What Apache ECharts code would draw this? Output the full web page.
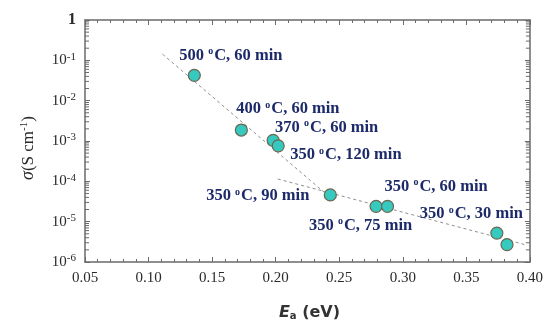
<!DOCTYPE html>
<html lang="en">
<head>
  <meta charset="UTF-8">
  <title>Conductivity vs activation energy</title>
  <script src="https://cdn.jsdelivr.net/npm/echarts@6/dist/echarts.min.js"></script>
  <style>
    html, body { margin: 0; padding: 0; background: #fff; }
    #chart { width: 546px; height: 326px; }
  </style>
</head>
<body>
  <div id="chart"></div>
  <script>
    // data
    var ea = [0.136, 0.173, 0.198, 0.202, 0.243, 0.279, 0.288, 0.374, 0.382];
    var sigma = [4.25e-2, 1.87e-3, 1.04e-3, 7.6e-4, 4.6e-5, 2.4e-5, 2.4e-5, 5.2e-6, 2.7e-6];
    var temps = [500, 400, 370, 350, 350, 350, 350, 350, null];
    var times = [60, 60, 60, 120, 90, 75, 60, 30, null];
    // two dashed guide lines (end points)
    var fitHigh = [[0.111, 0.142], [0.246, 3.3e-5]];
    var fitLow = [[0.2017, 1.14e-4], [0.398, 2.6e-6]];
    var xTicks = [0.05, 0.10, 0.15, 0.20, 0.25, 0.30, 0.35, 0.40];

    var xMin = 0.05, xMax = 0.40;

    // where each label sits relative to its point
    var labelOffsets = [[-15, -20], [-5, -21], [2, -13], [12, 9], [-21, 1], [-67, 19], [-3, -20], [-77, -19], null];
    var labelAlign = ['left', 'left', 'left', 'left', 'right', 'left', 'left', 'left', 'left'];

    var navy = '#1c2a6a';
    var labelRich = {
      t: { fontFamily: 'Liberation Serif', fontWeight: 'bold', fontSize: 16.5, color: navy },
      s: { fontFamily: 'Liberation Serif', fontWeight: 'bold', fontSize: 10, color: navy, padding: [0, 1, 7, 0] }
    };

    var points = ea.map(function (x, i) {
      var item = { value: [x, sigma[i]] };
      if (temps[i] != null) {
        item.label = {
          show: true,
          position: 'inside',
          offset: labelOffsets[i],
          align: labelAlign[i],
          verticalAlign: 'middle',
          formatter: '{t|' + temps[i] + ' }{s|o}{t|C, ' + times[i] + ' min}',
          rich: labelRich
        };
      }
      return item;
    });

    // log minor tick values (2..9 per decade)
    var minorVals = [];
    for (var e = -6; e < 0; e++) {
      for (var m = 2; m <= 9; m++) minorVals.push([xMin, m * Math.pow(10, e)]);
    }

    var frame = '#6a6a6a';
    var tickFont = { fontFamily: 'Liberation Serif', fontSize: 15, color: '#2a2a2a' };

    var myChart = echarts.init(document.getElementById('chart'), null, { renderer: 'canvas' });
    var option = {
      animation: false,
      backgroundColor: '#fff',
      grid: { left: 85, right: 15, top: 20, bottom: 58 },
      xAxis: [{
        type: 'value',
        min: xMin, max: xMax, interval: 0.05,
        axisLine: { lineStyle: { color: frame, width: 1.5 } },
        axisTick: { inside: true, length: 5, lineStyle: { color: frame } },
        minorTick: { show: true, splitNumber: 5, length: 3, lineStyle: { color: frame } },
        splitLine: { show: false },
        axisLabel: {
          margin: 9,
          formatter: function (v) { return v.toFixed(2); },
          fontFamily: tickFont.fontFamily, fontSize: tickFont.fontSize, color: tickFont.color
        },
        name: '{e|E}{a|a}{n| (eV)}',
        nameLocation: 'middle',
        nameGap: 43,
        nameTextStyle: {
          padding: [0, 0, 0, 4],
          rich: {
            e: { fontFamily: 'DejaVu Sans', fontWeight: 'bold', fontStyle: 'italic', fontSize: 16, color: '#333' },
            a: { fontFamily: 'DejaVu Sans', fontWeight: 'bold', fontSize: 10, color: '#333', padding: [6, 0, 0, 0] },
            n: { fontFamily: 'DejaVu Sans', fontWeight: 'bold', fontSize: 16, color: '#333' }
          }
        }
      }, {
        type: 'value', position: 'top',
        min: xMin, max: xMax, interval: 0.05,
        axisLine: { lineStyle: { color: frame, width: 1.5 } },
        axisTick: { inside: true, length: 5, lineStyle: { color: frame } },
        minorTick: { show: true, splitNumber: 5, length: 3, lineStyle: { color: frame } },
        splitLine: { show: false },
        axisLabel: { show: false }
      }],
      yAxis: [{
        type: 'log', logBase: 10,
        min: 1e-6, max: 1, splitNumber: 6,
        axisLine: { lineStyle: { color: frame, width: 1.5 } },
        axisTick: { inside: true, length: 5, lineStyle: { color: frame } },
        splitLine: { show: false },
        axisLabel: {
          margin: 9,
          formatter: function (v) {
            if (v >= 0.999) return '{one|1}';
            return '{b|10}{s|' + Math.round(Math.log10(v)) + '}';
          },
          rich: {
            one: { fontFamily: 'Liberation Serif', fontWeight: 'bold', fontSize: 16, color: '#2a2a2a' },
            b: { fontFamily: 'Liberation Serif', fontSize: 15, color: '#2a2a2a' },
            s: { fontFamily: 'Liberation Serif', fontSize: 11, color: '#2a2a2a', padding: [0, 0, 7, 0] }
          }
        },
        name: '{i|σ}{n|(S cm}{s|-1}{n|)}',
        nameLocation: 'middle',
        nameGap: 47,
        nameTextStyle: {
          padding: [0, 14, 0, 0],
          rich: {
            i: { fontFamily: 'Liberation Serif', fontStyle: 'italic', fontSize: 18, color: '#2a2a2a' },
            n: { fontFamily: 'Liberation Serif', fontSize: 17, color: '#2a2a2a' },
            s: { fontFamily: 'Liberation Serif', fontSize: 11, color: '#2a2a2a', padding: [0, 0, 8, 0] }
          }
        }
      }, {
        type: 'log', logBase: 10, position: 'right',
        min: 1e-6, max: 1, splitNumber: 6,
        axisLine: { lineStyle: { color: frame, width: 1.5 } },
        axisTick: { inside: true, length: 5, lineStyle: { color: frame } },
        splitLine: { show: false },
        axisLabel: { show: false }
      }],
      series: [{
        type: 'custom',
        silent: true,
        clip: false,
        data: minorVals,
        renderItem: function (params, api) {
          var v = api.value(1);
          var l = api.coord([xMin, v]);
          var r = api.coord([xMax, v]);
          var st = { stroke: frame, lineWidth: 1 };
          return {
            type: 'group',
            children: [
              { type: 'line', shape: { x1: l[0], y1: l[1], x2: l[0] + 4, y2: l[1] }, style: st },
              { type: 'line', shape: { x1: r[0], y1: r[1], x2: r[0] - 4, y2: r[1] }, style: st }
            ]
          };
        }
      }, {
        type: 'line', data: fitHigh, symbol: 'none', silent: true,
        lineStyle: { color: '#8f8f8f', width: 1, type: [3, 3] }
      }, {
        type: 'line', data: fitLow, symbol: 'none', silent: true,
        lineStyle: { color: '#8f8f8f', width: 1, type: [3, 3] }
      }, {
        type: 'scatter',
        data: points,
        symbolSize: 12,
        itemStyle: { color: '#35c9bf', borderColor: '#6b6650', borderWidth: 1.2, opacity: 1 },
        z: 5
      }]
    };
    myChart.setOption(option);
  </script>
</body>
</html>
